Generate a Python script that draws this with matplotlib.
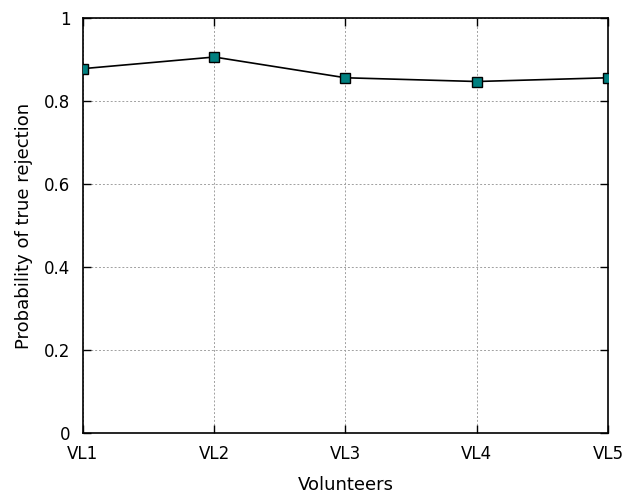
import matplotlib
matplotlib.use("Agg")
import matplotlib.pyplot as plt

volunteers = ["VL1", "VL2", "VL3", "VL4", "VL5"]
true_rejection = [0.878, 0.906, 0.856, 0.847, 0.856]
y_ticks = [0, 0.2, 0.4, 0.6, 0.8, 1]
y_labels = ["0", "0.2", "0.4", "0.6", "0.8", "1"]

plt.rcParams["font.family"] = ["DejaVu Sans"]

fig = plt.figure(figsize=(6.23, 4.95), dpi=100)
ax = fig.add_axes([0.1332, 0.1253, 0.8427, 0.8383])

x = list(range(len(volunteers)))
ax.plot(x, true_rejection, color="black", linewidth=1.2,
        marker="s", markersize=7.5, markerfacecolor="#008080",
        markeredgecolor="black", markeredgewidth=1.0, zorder=3)

ax.set_xlim(0, len(volunteers) - 1)
ax.set_ylim(0, 1)
ax.set_xticks(x)
ax.set_xticklabels(volunteers)
ax.set_yticks(y_ticks)
ax.set_yticklabels(y_labels)

ax.tick_params(direction="in", length=6, width=1, top=True, right=True,
               labelsize=12, pad=9, colors="black")
ax.grid(True, color="#a0a0a0", linestyle=(0, (2, 2)), linewidth=0.7)
for s in ax.spines.values():
    s.set_linewidth(1.2)

ax.set_xlabel("Volunteers", fontsize=13, labelpad=9)
ax.set_ylabel("Probability of true rejection", fontsize=13, labelpad=8)

fig.savefig("out.png", dpi=100)
